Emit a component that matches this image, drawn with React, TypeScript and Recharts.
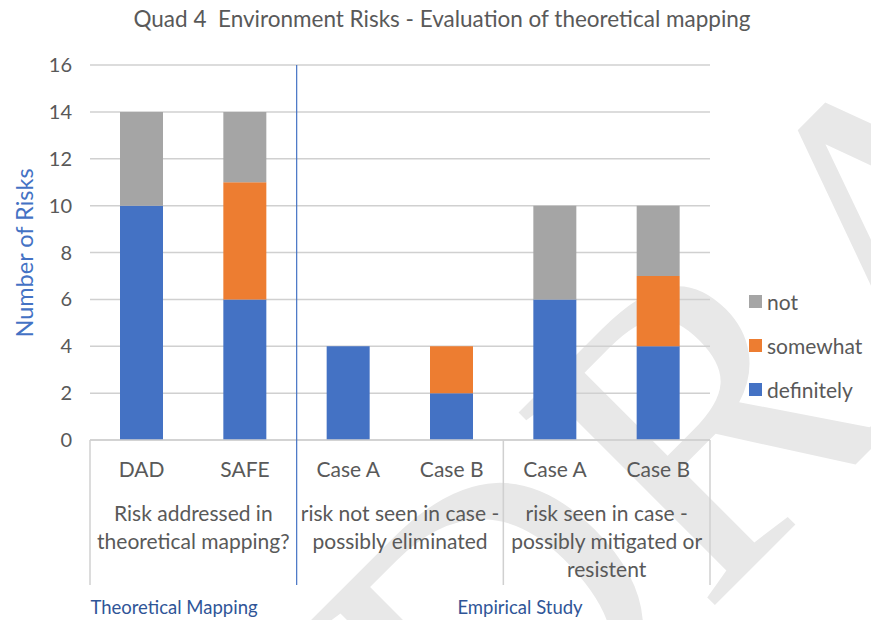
import { BarChart, Bar, XAxis, YAxis, CartesianGrid } from 'recharts';

const categories = ['DAD', 'SAFE', 'Case A', 'Case B', 'Case A', 'Case B'];
const definitely = [10, 6, 4, 2, 6, 4];
const somewhat = [0, 5, 0, 2, 0, 3];
const notAtAll = [4, 3, 0, 0, 4, 3];
const groupLabels = [
  ['Risk addressed in', 'theoretical mapping?'],
  ['risk not seen in case -', 'possibly eliminated'],
  ['risk seen in case -', 'possibly mitigated or', 'resistent'],
];
const yTicks = [0, 2, 4, 6, 8, 10, 12, 14, 16];

const data = categories.map((name, i) => ({
  name,
  definitely: definitely[i],
  somewhat: somewhat[i],
  not: notAtAll[i],
}));

const W = 871;
const H = 620;
const PLOT_LEFT = 90;
const PLOT_RIGHT = 710;
const PLOT_TOP = 65;
const PLOT_BOTTOM = 440;
const BAND = (PLOT_RIGHT - PLOT_LEFT) / categories.length;
const FONT = 'Lato, "Open Sans", sans-serif';
const GREY = '#595959';
const LINE = '#d0d0d0';
const BLUE = '#4472C4';

const series = [
  { key: 'definitely', color: '#4472C4' },
  { key: 'somewhat', color: '#ED7D31' },
  { key: 'not', color: '#A5A5A5' },
];

function CategoryTick(props: any) {
  const { x, payload } = props;
  const i = payload.index;
  const bottom = 585;
  const out: any[] = [
    <text key="c" x={x} y={477} textAnchor="middle" fill={GREY} fontSize={21} fontFamily={FONT}>
      {payload.value}
    </text>,
  ];
  if (i === 0) {
    out.push(<line key="l0" x1={x - BAND / 2} x2={x - BAND / 2} y1={PLOT_BOTTOM} y2={bottom} stroke={LINE} strokeWidth={1.5} />);
  }
  if (i % 2 === 1) {
    const g = groupLabels[(i - 1) / 2];
    g.forEach((t, k) => {
      out.push(
        <text key={'g' + k} x={x - BAND / 2} y={521 + k * 28} textAnchor="middle" fill={GREY} fontSize={21} fontFamily={FONT}>
          {t}
        </text>
      );
    });
    const isBlue = i === 1;
    out.push(
      <line
        key="d"
        x1={x + BAND / 2}
        x2={x + BAND / 2}
        y1={isBlue ? PLOT_TOP : PLOT_BOTTOM}
        y2={bottom}
        stroke={isBlue ? BLUE : LINE}
        strokeWidth={isBlue ? 1.2 : 1.5}
      />
    );
  }
  return <g>{out}</g>;
}

function LegendBox() {
  const items = [...series].reverse();
  return (
    <div style={{ position: 'absolute', left: 749, top: 279, fontFamily: FONT }}>
      {items.map((s) => (
        <div key={s.key} style={{ display: 'flex', alignItems: 'center', height: 44 }}>
          <span style={{ width: 13, height: 13, background: s.color, display: 'inline-block', marginRight: 5 }} />
          <span style={{ fontSize: 21, color: GREY }}>{s.key}</span>
        </div>
      ))}
    </div>
  );
}

export default function App() {
  return (
    <div style={{ position: 'absolute', left: 0, top: 0, width: W, height: H, background: '#fff', overflow: 'hidden' }}>
      <svg width={W} height={H} style={{ position: 'absolute', left: 0, top: 0 }}>
        {/* faint DRAFT watermark behind the chart */}
        <text
          x={0}
          y={0}
          transform="translate(490 830) rotate(-45)"
          fontFamily='"Liberation Serif", serif'
          fontSize={420}
          fill="#e8e8e8"
        >
          DRAFT
        </text>
      </svg>
      <div style={{ position: 'absolute', left: 0, top: 0 }}>
        <BarChart width={W} height={H} data={data} margin={{ top: PLOT_TOP, right: W - PLOT_RIGHT, left: 30, bottom: 30 }}>
          <CartesianGrid vertical={false} stroke={LINE} strokeWidth={1.5} />
          <XAxis
            dataKey="name"
            interval={0}
            tickLine={false}
            axisLine={{ stroke: LINE, strokeWidth: 1.5 }}
            height={150}
            tick={<CategoryTick />}
          />
          <YAxis
            width={60}
            domain={[0, 16]}
            ticks={yTicks}
            axisLine={false}
            tickLine={false}
            tickMargin={12}
            tick={{ fill: GREY, fontSize: 20, fontFamily: FONT }}
          />
          {series.map((s) => (
            <Bar key={s.key} dataKey={s.key} stackId="a" fill={s.color} barSize={43} isAnimationActive={false} />
          ))}
        </BarChart>
      </div>
      <LegendBox />
      <svg width={W} height={H} style={{ position: 'absolute', left: 0, top: 0, pointerEvents: 'none' }}>
        <text x={442} y={27} textAnchor="middle" fill={GREY} fontSize={22.5} fontFamily={FONT} style={{ whiteSpace: 'pre' }}>
          Quad 4  Environment Risks - Evaluation of theoretical mapping
        </text>
        <text
          transform="translate(33 253) rotate(-90)"
          textAnchor="middle"
          fill={BLUE}
          fontSize={23.5}
          fontFamily={FONT}
        >
          Number of Risks
        </text>
        <text x={174} y={614} textAnchor="middle" fill="#2F5597" fontSize={18.5} fontFamily={FONT}>
          Theoretical Mapping
        </text>
        <text x={520} y={614} textAnchor="middle" fill="#2F5597" fontSize={18.5} fontFamily={FONT}>
          Empirical Study
        </text>
      </svg>
    </div>
  );
}
